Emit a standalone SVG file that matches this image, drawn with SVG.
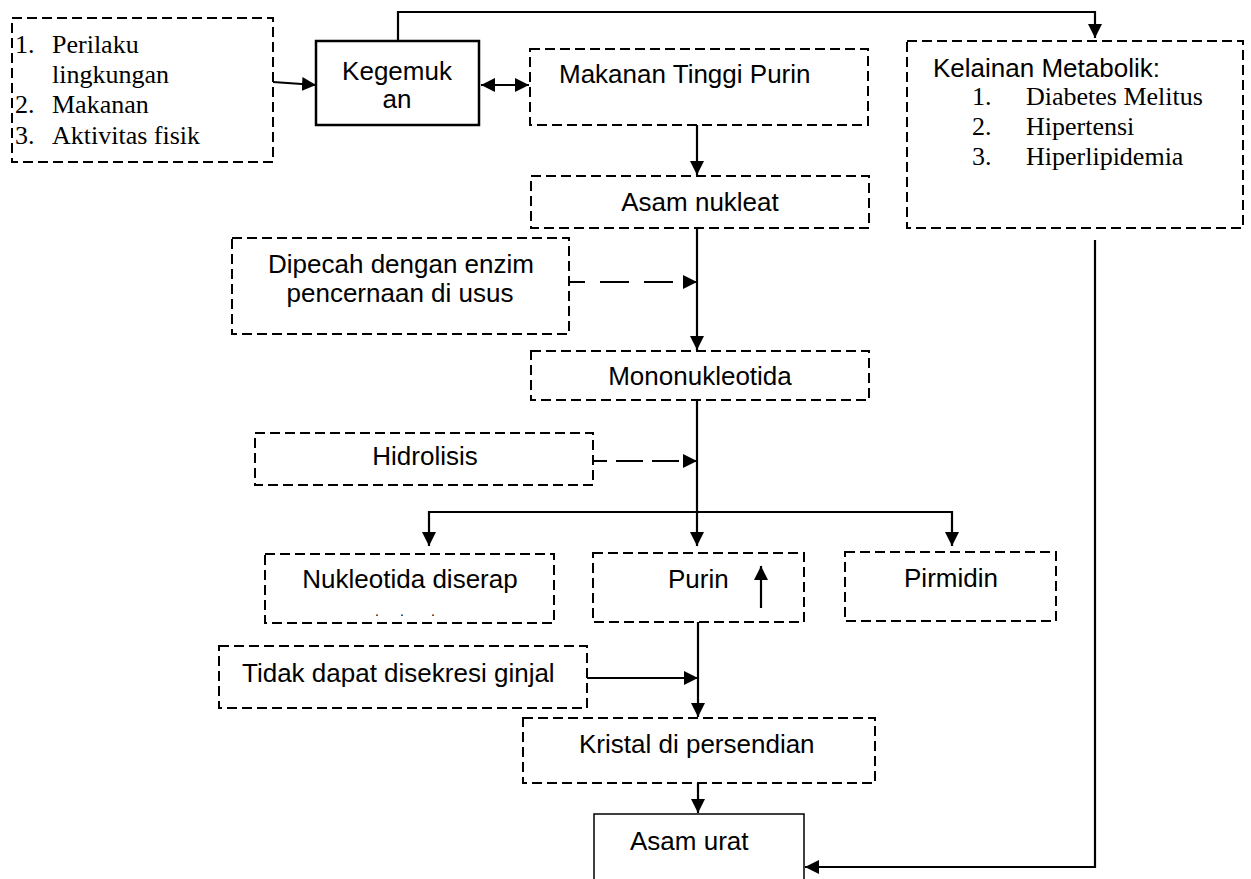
<svg xmlns="http://www.w3.org/2000/svg" width="1251" height="879" viewBox="0 0 1251 879">
<style>
.bg{fill:#fff}
.db{fill:#fff;stroke:#000;stroke-width:2;stroke-dasharray:10 5}
.sb{fill:#fff;stroke:#000;stroke-width:2.5}
.sb2{fill:#fff;stroke:#000;stroke-width:1.5}
.t{font-family:"Liberation Sans",Arial,sans-serif;font-size:26px;fill:#000}
.tm{text-anchor:middle}
.r{font-family:"Liberation Serif","Times New Roman",serif;font-size:26px;fill:#000}
.c{fill:none;stroke:#000;stroke-width:2.2}
.cd{fill:none;stroke:#000;stroke-width:2.2}
</style>
<defs>
<marker id="ah" viewBox="0 0 10 10" refX="10" refY="5" markerUnits="userSpaceOnUse" markerWidth="14" markerHeight="14" orient="auto-start-reverse">
<path d="M0,0 L10,5 L0,10 z" fill="#000"/>
</marker>
</defs>
<rect class="bg" x="0" y="0" width="1251" height="879"/>

<g id="faktor">
<rect class="db" x="12" y="18" width="261" height="144"/>
<text class="r" x="15" y="53">1.</text><text class="r" x="52" y="53">Perilaku</text>
<text class="r" x="52" y="83">lingkungan</text>
<text class="r" x="15" y="113">2.</text><text class="r" x="52" y="113">Makanan</text>
<text class="r" x="15" y="144">3.</text><text class="r" x="52" y="144">Aktivitas fisik</text>
</g>

<g id="kegemukan">
<rect class="sb" x="316" y="41" width="163" height="84"/>
<text class="t tm" x="397" y="80">Kegemuk</text>
<text class="t tm" x="397" y="108">an</text>
</g>

<g id="makanan">
<rect class="db" x="530" y="49" width="338" height="76"/>
<text class="t" x="559" y="83">Makanan Tinggi Purin</text>
</g>

<g id="kelainan">
<rect class="db" x="907" y="41" width="336" height="187"/>
<text class="t" x="933" y="77">Kelainan Metabolik:</text>
<text class="r" x="972" y="105">1.</text><text class="r" x="1026" y="105">Diabetes Melitus</text>
<text class="r" x="972" y="135">2.</text><text class="r" x="1026" y="135">Hipertensi</text>
<text class="r" x="972" y="165">3.</text><text class="r" x="1026" y="165">Hiperlipidemia</text>
</g>

<g id="asamnukleat">
<rect class="db" x="531" y="176" width="338" height="52"/>
<text class="t tm" x="700" y="211">Asam nukleat</text>
</g>

<g id="dipecah">
<rect class="db" x="232" y="238" width="337" height="96"/>
<text class="t tm" x="401" y="273">Dipecah dengan enzim</text>
<text class="t tm" x="400" y="302">pencernaan di usus</text>
</g>

<g id="mononukleotida">
<rect class="db" x="531" y="351" width="338" height="49"/>
<text class="t tm" x="700" y="385">Mononukleotida</text>
</g>

<g id="hidrolisis">
<rect class="db" x="255" y="433" width="338" height="52"/>
<text class="t tm" x="425" y="465">Hidrolisis</text>
</g>

<g id="nukleotida">
<rect class="db" x="265" y="554" width="289" height="69"/>
<text class="t tm" x="410" y="588">Nukleotida diserap</text>
<text class="t" x="375" y="616" style="font-size:14px">.</text>
<text class="t" x="400" y="616" style="font-size:14px">.</text>
<text class="t" x="431" y="616" style="font-size:14px">.</text>
</g>

<g id="purin">
<rect class="db" x="593" y="553" width="211" height="69"/>
<text class="t" x="668" y="588">Purin</text>
<line class="c" x1="761" y1="608" x2="761" y2="566" marker-end="url(#ah)"/>
</g>

<g id="pirmidin">
<rect class="db" x="845" y="552" width="211" height="69"/>
<text class="t tm" x="951" y="587">Pirmidin</text>
</g>

<g id="tidak">
<rect class="db" x="219" y="646" width="368" height="62"/>
<text class="t" x="242" y="682">Tidak dapat disekresi ginjal</text>
</g>

<g id="kristal">
<rect class="db" x="523" y="718" width="352" height="65"/>
<text class="t" x="579" y="753">Kristal di persendian</text>
</g>

<g id="asamurat">
<rect class="sb2" x="594" y="814" width="210" height="80"/>
<text class="t" x="630" y="850">Asam urat</text>
</g>

<g id="connectors">
<line class="c" x1="273" y1="82" x2="316" y2="85" marker-end="url(#ah)"/>
<line class="c" x1="481" y1="85" x2="529" y2="85" marker-start="url(#ah)" marker-end="url(#ah)"/>
<polyline class="c" points="398,41 398,12 1095,12 1095,38" marker-end="url(#ah)"/>
<line class="c" x1="697" y1="125" x2="697" y2="175" marker-end="url(#ah)"/>
<line class="c" x1="697" y1="228" x2="697" y2="350" marker-end="url(#ah)"/>
<line class="cd" x1="569" y1="282" x2="697" y2="282" stroke-dasharray="29 15" stroke-dashoffset="13" marker-end="url(#ah)"/>
<line class="c" x1="697" y1="400" x2="697" y2="546" marker-end="url(#ah)"/>
<line class="cd" x1="593" y1="461" x2="697" y2="461" stroke-dasharray="27 9" stroke-dashoffset="13" marker-end="url(#ah)"/>
<polyline class="c" points="429,546 429,512 952,512 952,546" marker-start="url(#ah)" marker-end="url(#ah)"/>
<line class="c" x1="698" y1="622" x2="698" y2="717" marker-end="url(#ah)"/>
<line class="c" x1="587" y1="678" x2="698" y2="678" marker-end="url(#ah)"/>
<line class="c" x1="698" y1="783" x2="698" y2="813" marker-end="url(#ah)"/>
<polyline class="c" points="1095,240 1095,867 805,867" marker-end="url(#ah)"/>
</g>
</svg>
